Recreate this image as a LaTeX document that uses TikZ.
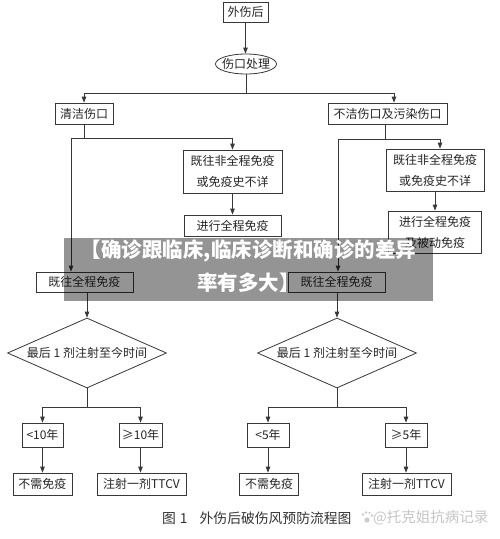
\documentclass[tikz,border=0pt]{standalone}
\usepackage{fontspec}
\setmainfont{Noto Sans CJK SC}
\usetikzlibrary{shapes.geometric,arrows.meta}
\definecolor{ln}{gray}{0.22}
\definecolor{tx}{gray}{0.15}
\tikzset{
  box/.style={draw=ln, line width=0.8pt, inner sep=0pt, align=center, text=tx,
    font=\fontsize{12}{21}\selectfont},
  arr/.style={draw=ln, line width=0.8pt, -{Triangle[length=6pt,width=4.5pt]}},
  ln/.style={draw=ln, line width=0.8pt},
}
\begin{document}
\begin{tikzpicture}[x=1pt,y=-1pt]
\useasboundingbox (0,0) rectangle (500,539);
\fill[white] (0,0) rectangle (500,539);
% top
\node[box, minimum width=45pt, minimum height=20pt] (n1) at (245.5,12) {外伤后};
\node[box, ellipse, minimum width=61pt, minimum height=20pt] (n2) at (246,64) {\makebox[0pt]{伤口处理}};
\node[box, minimum width=58pt, minimum height=21pt] (qj) at (84,113.5) {清洁伤口};
\node[box, minimum width=119pt, minimum height=21pt] (bj) at (387.5,113.5) {不洁伤口及污染伤口};
% left middle
\node[box, minimum width=99pt, minimum height=43pt] (L1) at (232.5,171.5) {既往非全程免疫\\或免疫史不详};
\node[box, minimum width=97pt, minimum height=21pt] (L2) at (232.5,225.5) {进行全程免疫};
\node[box, minimum width=97pt, minimum height=20pt] (Q1) at (84.5,282) {既往全程免疫};
% right middle
\node[box, minimum width=98pt, minimum height=42pt] (R1) at (435,170) {既往非全程免疫\\或免疫史不详};
\node[box, minimum width=93pt, minimum height=42pt] (R2) at (435,232) {进行全程免疫\\及被动免疫};
\node[box, minimum width=97pt, minimum height=20pt] (Q2) at (336.5,282) {既往全程免疫};
% diamonds
\node[box, diamond, minimum width=159pt, minimum height=70pt] (D1) at (87,353) {\makebox[0pt]{最后 1 剂注射至今时间}};
\node[box, diamond, minimum width=159pt, minimum height=70pt] (D2) at (337,353) {\makebox[0pt]{最后 1 剂注射至今时间}};
% bottom left
\node[box, minimum width=41pt, minimum height=24pt] (a1) at (42.5,435) {<10年};
\node[box, minimum width=43pt, minimum height=24pt] (a2) at (140.5,435) {≥10年};
\node[box, minimum width=59pt, minimum height=22pt] (a3) at (42.5,484) {不需免疫};
\node[box, minimum width=89pt, minimum height=22pt] (a4) at (141.5,484) {注射一剂TTCV};
% bottom right
\node[box, minimum width=42pt, minimum height=24pt] (b1) at (268,435) {<5年};
\node[box, minimum width=42pt, minimum height=24pt] (b2) at (406,435) {≥5年};
\node[box, minimum width=59pt, minimum height=22pt] (b3) at (269,484) {不需免疫};
\node[box, minimum width=89pt, minimum height=22pt] (b4) at (406.5,484) {注射一剂TTCV};
% junctions
\coordinate (j0) at (246,93);
\coordinate (j0r) at (394,93);
\coordinate (jl) at (84,138);
\coordinate (jll) at (71,138);
\coordinate (jr) at (385,139);
\coordinate (jrr) at (440,139);
\coordinate (jrl) at (338,139);
\coordinate (k1) at (87,407);
\coordinate (k2) at (337,407);
% connectors
\draw[arr] (n1.south) -- (n1.south |- n2.north);
\draw[ln] (n2.south) -- (j0);
\draw[arr] (j0) -| (qj.north);
\draw[arr] (j0) -- (j0r) -- (j0r |- bj.north);
\draw[ln] (qj.south) -- (jl);
\draw[arr] (jl) -| (L1.north);
\draw[arr] (jl) -- (jll) -- (jll |- Q1.north);
\draw[arr] (L1.south) -- (L1.south |- L2.north);
\draw[ln] (jr |- bj.south) -- (jr);
\draw[arr] (jr) -- (jrr) -- (jrr |- R1.north);
\draw[arr] (jr) -- (jrl) -- (jrl |- Q2.north);
\draw[arr] (R1.south) -- (R1.south |- R2.north);
\draw[arr] (D1.north |- Q1.south) -- (D1.north);
\draw[arr] (D2.north |- Q2.south) -- (D2.north);
\draw[ln] (D1.south) -- (k1);
\draw[arr] (k1) -| (a1.north);
\draw[arr] (k1) -| (a2.north);
\draw[arr] (a1.south) -- (a3.north);
\draw[arr] (a2.south) -- (a2.south |- a4.north);
\draw[ln] (D2.south) -- (k2);
\draw[arr] (k2) -| (b1.north);
\draw[arr] (k2) -| (b2.north);
\draw[arr] (b1.south) -- (b1.south |- b3.north);
\draw[arr] (b2.south) -- (b2.south |- b4.north);
% caption
\node[anchor=west, inner sep=0pt, text=black!80, font=\fontsize{13.8}{16}\selectfont] (cap) at (162,518) {图\hspace{4pt}1\hspace{12pt}外伤后破伤风预防流程图};
% watermark
\begin{scope}[gray!40]
\fill (367,520) circle (2.6pt);
\fill (363,514.5) circle (1.3pt);
\fill (366,512.5) circle (1.3pt);
\fill (369.5,512.8) circle (1.3pt);
\fill (372,515.5) circle (1.3pt);
\end{scope}
\node[anchor=west, inner sep=0pt, text=gray!45, font=\fontsize{14.5}{16}\selectfont] (wm) at (373,518) {@托克姐抗病记录};
% banner overlay
\fill[black, fill opacity=0.42] (64,238) rectangle (433,301);
\node[text=white, inner sep=0pt, font=\bfseries\fontsize{20.5}{24}\selectfont] (bt1) at (248.5,251) {【确诊跟临床,临床诊断和确诊的差异};
\node[text=white, inner sep=0pt, font=\bfseries\fontsize{20.5}{24}\selectfont] (bt2) at (248.5,283) {率有多大】};
\end{tikzpicture}
\end{document}
